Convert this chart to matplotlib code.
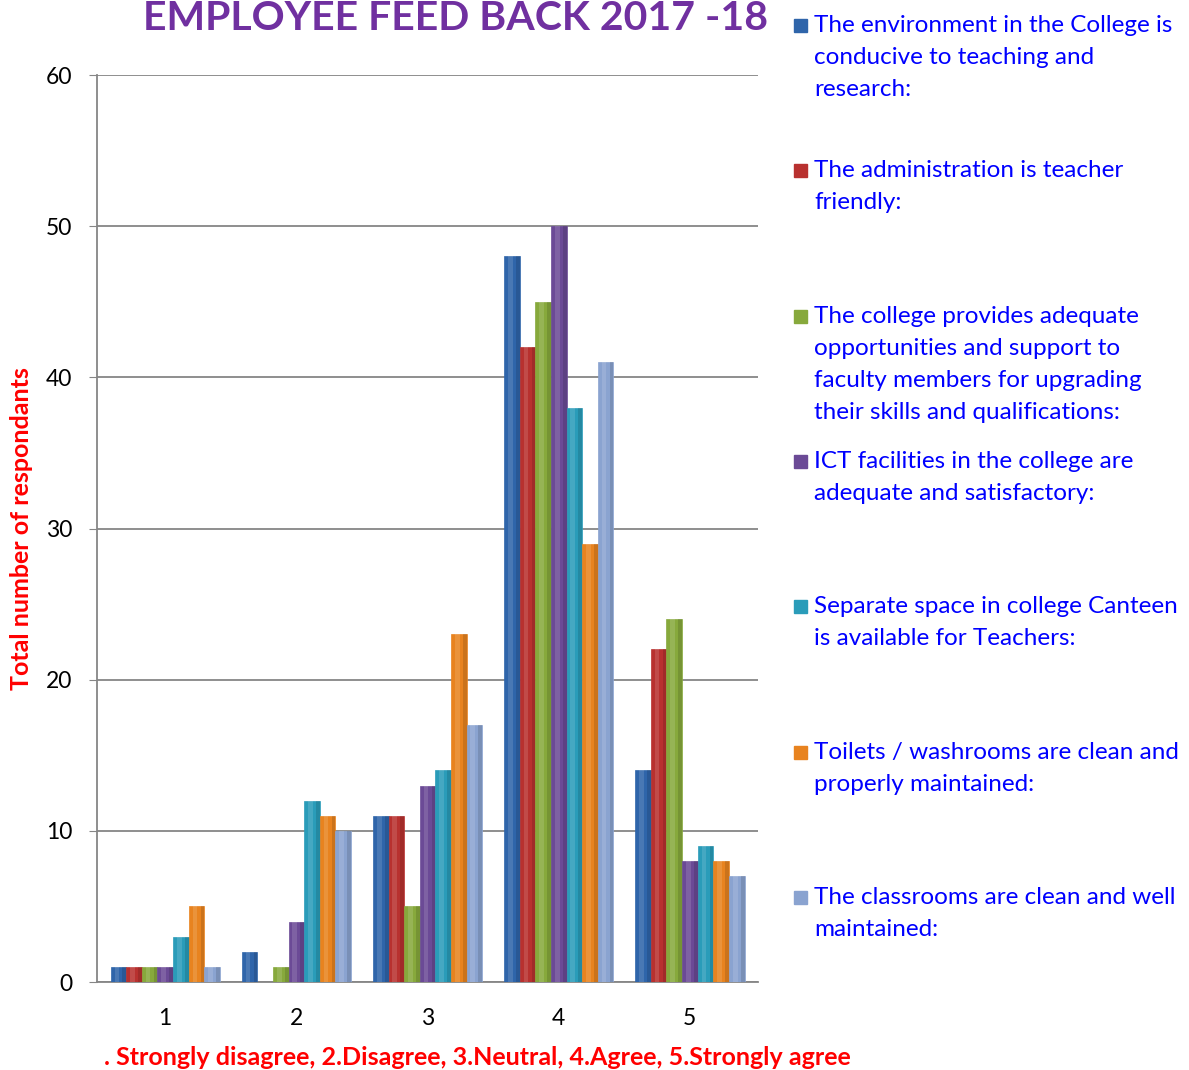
import matplotlib.pyplot as plt
import numpy as np
from matplotlib.patches import Rectangle

categories = ["1", "2", "3", "4", "5"]
series_labels = [
    "The environment in the College is\nconducive to teaching and\nresearch:",
    "The administration is teacher\nfriendly:",
    "The college provides adequate\nopportunities and support to\nfaculty members for upgrading\ntheir skills and qualifications:",
    "ICT facilities in the college are\nadequate and satisfactory:",
    "Separate space in college Canteen\nis available for Teachers:",
    "Toilets / washrooms are clean and\nproperly maintained:",
    "The classrooms are clean and well\nmaintained:",
]
env = [1, 2, 11, 48, 14]
admin = [1, 0, 11, 42, 22]
upgrade = [1, 1, 5, 45, 24]
ict = [1, 4, 13, 50, 8]
canteen = [3, 12, 14, 38, 9]
toilets = [5, 11, 23, 29, 8]
classrooms = [1, 10, 17, 41, 7]
values = [env, admin, upgrade, ict, canteen, toilets, classrooms]
colors = ["#2F65AA", "#B8312F", "#87A93C", "#6B4A96", "#2A9CB9", "#E8831F", "#8AA3D0"]

plt.rcParams['font.family'] = ['Lato', 'DejaVu Sans']

fig = plt.figure(figsize=(11.89, 10.70), dpi=100)
ax = fig.add_axes([0.0816, 0.0822, 0.556, 0.8477])

x = np.arange(len(categories))
w = 0.119
n = len(values)
for i, (vals, c) in enumerate(zip(values, colors)):
    offs = (i - (n - 1) / 2) * w
    ax.bar(x + offs, vals, width=w, color=c, edgecolor=c, linewidth=0.5, zorder=3)
    # glossy look: light strip in the middle, darker edges
    ax.bar(x + offs - w * 0.1, vals, width=w * 0.3, color="white", alpha=0.13, linewidth=0, zorder=4)
    ax.bar(x + offs + w * 0.38, vals, width=w * 0.24, color="black", alpha=0.12, linewidth=0, zorder=4)

ax.set_ylim(0, 60)
ax.set_xlim(-0.52, 4.52)
ax.set_yticks(range(0, 61, 10))
ax.set_xticks(x)
ax.set_xticklabels(categories)
ax.tick_params(axis='both', labelsize=16.5, colors="#000000")
ax.tick_params(axis='x', length=0, pad=19)
ax.tick_params(axis='y', length=6, color="#868686", pad=12)
ax.grid(axis='y', color="#868686", linewidth=1.3, zorder=0)
for s in ["top", "right"]:
    ax.spines[s].set_visible(False)
ax.spines["left"].set_color("#868686")
ax.spines["bottom"].set_color("#868686")
ax.spines["left"].set_linewidth(1.3)
ax.spines["bottom"].set_linewidth(1.3)

ax.set_ylabel("Total number of respondants", color="#FF0000", fontsize=18, fontweight="bold")
ax.yaxis.set_label_coords(-0.097, 0.5)
ax.set_xlabel(". Strongly disagree, 2.Disagree, 3.Neutral, 4.Agree, 5.Strongly agree",
              color="#FF0000", fontsize=18, fontweight="bold")
ax.xaxis.set_label_coords(0.575, -0.071)

fig.text(0.383, 0.983, "EMPLOYEE FEED BACK 2017 -18", color="#7030A0", fontsize=29.5,
         fontweight="bold", ha="center", va="center")

# legend
W, H = 1189, 1070
for i, (lab, c) in enumerate(zip(series_labels, colors)):
    ytop = 25 + i * 145.3
    fig.patches.append(Rectangle((794 / W, 1 - (ytop + 7) / H), 13 / W, 13 / H,
                                 transform=fig.transFigure, facecolor=c, edgecolor=c))
    fig.text(814 / W, 1 - (ytop - 10) / H, lab, color="#0000FF", fontsize=17.5,
             ha="left", va="top", linespacing=1.65)

fig.savefig("out.png", dpi=100)
